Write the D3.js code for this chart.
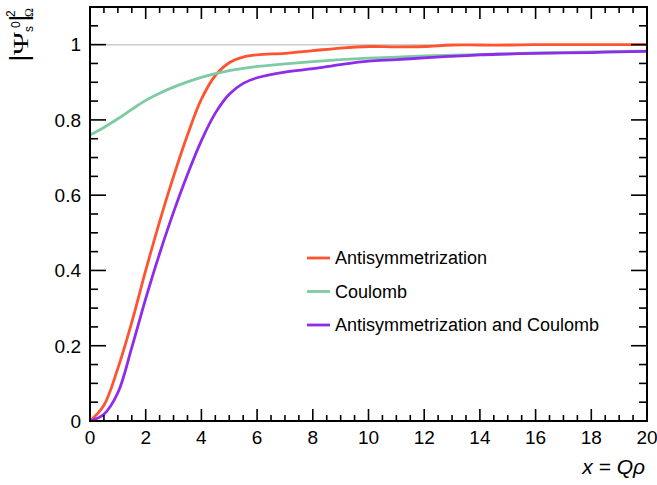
<html>
<head>
<meta charset="utf-8">
<title>Overlap vs Q rho</title>
<script src="https://cdn.jsdelivr.net/npm/d3@7"></script>
<style>
  body { margin: 0; background: #fff; }
  text { font-family: "Liberation Sans", Arial, sans-serif; fill: #000; }
</style>
</head>
<body>
<svg width="657" height="485"></svg>
<script>
// shared x grid (x = Q rho)
var xGrid = [0, 0.5, 1, 1.5, 2, 2.5, 3, 3.5, 4, 4.5, 5, 5.5, 6, 7, 8, 9, 10, 11, 12, 13, 14, 15, 16, 17, 18, 19, 20];

var antisym = [0, 0.042, 0.14, 0.262, 0.40, 0.53, 0.65, 0.76, 0.855, 0.918, 0.952, 0.967, 0.973,
               0.977, 0.984, 0.991, 0.995, 0.994, 0.995, 0.999, 0.999, 0.999, 1.0, 1.0, 1.0, 1.0, 1.0];
var coulomb = [0.76, 0.78, 0.803, 0.828, 0.852, 0.871, 0.887, 0.901, 0.913, 0.923, 0.931, 0.937, 0.942,
               0.949, 0.955, 0.96, 0.964, 0.967, 0.97, 0.972, 0.974, 0.976, 0.978, 0.979, 0.981, 0.982, 0.983];
var both = [0, 0.018, 0.075, 0.195, 0.325, 0.445, 0.555, 0.655, 0.745, 0.818, 0.868, 0.897, 0.912,
            0.927, 0.936, 0.947, 0.956, 0.96, 0.965, 0.969, 0.973, 0.975, 0.977, 0.978, 0.979, 0.981, 0.982];

var seriesNames = ["Antisymmetrization", "Coulomb", "Antisymmetrization and Coulomb"];
var seriesValues = [antisym, coulomb, both];
var seriesColors = ["#fe5430", "#7ccba2", "#8f2bea"];

var xTicks = [0, 2, 4, 6, 8, 10, 12, 14, 16, 18, 20];
var yTicks = [0, 0.2, 0.4, 0.6, 0.8, 1];

var svg = d3.select("svg"),
    L = 90, R = 647, T = 7, B = 421;

var x = d3.scaleLinear().domain([0, 20]).range([L, R]);
var y = d3.scaleLinear().domain([0, 1.1]).range([B, T]);

var xMinor = d3.range(0, 20.001, 0.5);
var yMinor = d3.range(0, 1.1001, 0.05);

// reference line at 1
svg.append("line")
    .attr("x1", x(0)).attr("x2", x(20))
    .attr("y1", y(1)).attr("y2", y(1))
    .attr("stroke", "#cccccc").attr("stroke-width", 1.5);

// curves
var line = d3.line()
    .x(function(d){ return x(d[0]); })
    .y(function(d){ return y(d[1]); })
    .curve(d3.curveCatmullRom.alpha(0.5));

seriesValues.forEach(function(vals, i){
  svg.append("path")
      .datum(xGrid.map(function(xv, j){ return [xv, vals[j]]; }))
      .attr("d", line)
      .attr("fill", "none")
      .attr("stroke", seriesColors[i])
      .attr("stroke-width", 2.8);
});

// ticks (inward, on all four sides)
var tk = svg.append("g").attr("stroke", "#000").attr("stroke-width", 1.6);
xMinor.forEach(function(v){
  var major = Math.abs(v / 2 - Math.round(v / 2)) < 1e-6;
  var len = major ? 12 : 6;
  tk.append("line").attr("x1", x(v)).attr("x2", x(v)).attr("y1", B).attr("y2", B - len);
  tk.append("line").attr("x1", x(v)).attr("x2", x(v)).attr("y1", T).attr("y2", T + len);
});
yMinor.forEach(function(v){
  var major = Math.abs(v / 0.2 - Math.round(v / 0.2)) < 1e-6;
  var len = major ? 16 : 8;
  tk.append("line").attr("y1", y(v)).attr("y2", y(v)).attr("x1", L).attr("x2", L + len);
  tk.append("line").attr("y1", y(v)).attr("y2", y(v)).attr("x1", R).attr("x2", R - len);
});

// frame
svg.append("rect")
    .attr("x", L).attr("y", T)
    .attr("width", R - L).attr("height", B - T)
    .attr("fill", "none").attr("stroke", "#000").attr("stroke-width", 2);

// tick labels
svg.append("g").selectAll("text")
    .data(xTicks).enter().append("text")
    .attr("x", function(d){ return x(d); })
    .attr("y", 443.5)
    .attr("text-anchor", "middle")
    .style("font-size", "19px")
    .text(function(d){ return d; });

svg.append("g").selectAll("text")
    .data(yTicks).enter().append("text")
    .attr("x", 81)
    .attr("y", function(d){ return y(d); })
    .attr("dy", "0.36em")
    .attr("text-anchor", "end")
    .style("font-size", "19px")
    .text(function(d){ return d; });

// x title
svg.append("text")
    .attr("x", 645).attr("y", 474)
    .attr("text-anchor", "end")
    .style("font-size", "21px")
    .style("font-style", "italic")
    .text("x = Q\u03c1");

// y title |Psi^0_s|^2_Omega, rotated
var yt = svg.append("g").attr("transform", "translate(28,62) rotate(-90)");
yt.append("text").attr("x", 0.5).attr("y", 0).style("font-size", "26px").text("|");
yt.append("text").attr("x", 7).attr("y", 0)
    .attr("textLength", 23).attr("lengthAdjust", "spacingAndGlyphs")
    .style("font-family", "'Liberation Serif', serif").style("font-size", "21px").text("\u03a8");
yt.append("text").attr("x", 34).attr("y", -8).style("font-size", "12px").text("0");
yt.append("text").attr("x", 30).attr("y", 5).style("font-size", "12px").text("s");
yt.append("text").attr("x", 40.6).attr("y", 0).style("font-size", "26px").text("|");
yt.append("text").attr("x", 45).attr("y", -13).style("font-size", "12px").text("2");
yt.append("text").attr("x", 45).attr("y", 5).style("font-size", "12px")
    .style("font-family", "'Liberation Serif', serif").text("\u03a9");

// legend
var legend = svg.append("g").selectAll("g")
    .data(seriesNames).enter().append("g")
    .attr("transform", function(d, i){ return "translate(307," + (258 + i * 33.5) + ")"; });

legend.append("line")
    .attr("x1", 0).attr("x2", 23)
    .attr("stroke", function(d, i){ return seriesColors[i]; })
    .attr("stroke-width", 2.8);

legend.append("text")
    .attr("x", 28).attr("dy", "0.35em")
    .style("font-size", "18px")
    .text(function(d){ return d; });
</script>
</body>
</html>
